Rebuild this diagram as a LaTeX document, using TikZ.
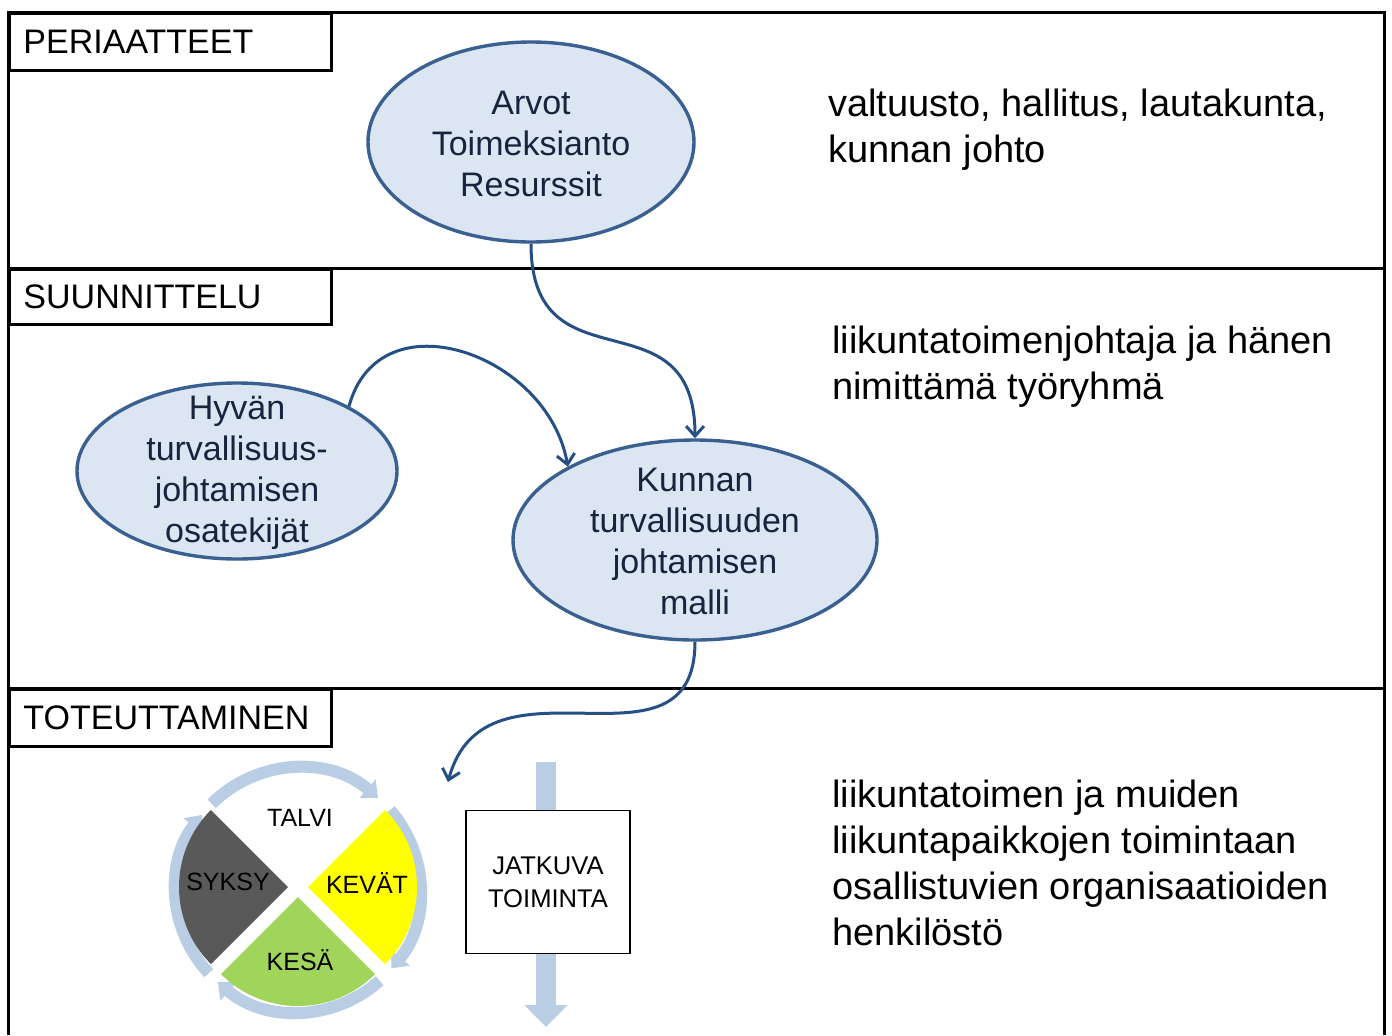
\documentclass[tikz,border=0pt]{standalone}
\usepackage{fontspec}
\setmainfont{Liberation Sans}
\usetikzlibrary{shapes.geometric, arrows.meta, positioning}
\definecolor{ellfill}{RGB}{220,230,242}
\definecolor{elledge}{RGB}{58,96,145}
\definecolor{flowblue}{RGB}{37,79,133}
\definecolor{ringblue}{RGB}{185,205,229}
\definecolor{ellink}{RGB}{22,36,62}
\definecolor{kevatyellow}{RGB}{255,255,0}
\definecolor{kesagreen}{RGB}{160,212,90}
\definecolor{syksygray}{RGB}{89,89,89}

\begin{document}
\begin{tikzpicture}[x=0.5pt, y=-0.5pt,
  phase/.style={draw=black, line width=1.5pt, anchor=north west, text width=147pt, inner xsep=7pt, align=left, font=\fontsize{17}{20}\selectfont},
  goal/.style={ellipse, draw=elledge, fill=ellfill, line width=1.7pt, inner sep=0pt},
  goaltext/.style={align=center, text=ellink, font=\fontsize{17}{20.5}\selectfont},
  who/.style={anchor=west, align=left, inner sep=0pt, font=\fontsize{19}{23}\selectfont},
  link/.style={draw=flowblue, line width=1.5pt, -{Straight Barb[length=5pt, width=9pt]}},
  season/.style={font=\fontsize{12.5}{15}\selectfont},
  ring/.style={draw=ringblue, line width=6pt, -{Triangle[width=12pt, length=7pt]}}
]
  \useasboundingbox (0,0) rectangle (1392,1035);

  % Frame and levels
  \draw[line width=1.5pt] (8,1035) -- (8,12) -- (1384,12) -- (1384,1035);
  \draw[line width=1.5pt] (8,268) -- (1384,268);
  \draw[line width=1.5pt] (8,688) -- (1384,688);
  \node[phase, minimum height=28.5pt] (periaatteet) at (8,12) {PERIAATTEET};
  \node[phase, minimum height=27.5pt] (suunnittelu) at (8,268) {SUUNNITTELU};
  \node[phase, minimum height=28.5pt] (toteuttaminen) at (8,688) {TOTEUTTAMINEN};

  % Who
  \node[who] (ylin) at (828,130) {valtuusto, hallitus, lautakunta,\\kunnan johto};
  \node[who] (keski) at (832,367) {liikuntatoimenjohtaja ja hänen\\nimittämä työryhmä};
  \node[who] (alin) at (832,863) {liikuntatoimen ja muiden\\liikuntapaikkojen toimintaan\\osallistuvien organisaatioiden\\henkilöstö};

  % Ellipses
  \node[goal, minimum width=163pt, minimum height=100pt] (arvot) at (531,142) {};
  \node[goaltext] (arvotText) at (531,144) {Arvot\\Toimeksianto\\Resurssit};
  \node[goal, minimum width=160pt, minimum height=88pt] (hyvan) at (237,471) {};
  \node[goaltext] (hyvanText) at (237,473) {Hyvän\\turvallisuus-\\johtamisen\\osatekijät};
  \node[goal, minimum width=182pt, minimum height=100pt] (kunnan) at (695,540) {};
  \node[goaltext] (kunnanText) at (695,541) {Kunnan\\turvallisuuden\\johtamisen\\malli};

  % Arrows
  \coordinate (toCycle) at (448,782);
  \draw[link] (arvot.south) to[out=-90, in=90, looseness=1.5] (kunnan.north);
  \draw[link] (hyvan.30) to[out=75, in=100, looseness=1.3] (kunnan.150);
  \draw[link] (kunnan.south) to[out=-90, in=75, looseness=1.3] (toCycle);

  % Year cycle
  \coordinate (cycC) at (298,887);
  \coordinate (ringC) at (298,890);
  \draw[ring] ([shift={(135:61pt)}]ringC) arc[start angle=135, end angle=49, radius=61pt];
  \draw[ring] ([shift={(41:61pt)}]ringC) arc[start angle=41, end angle=-40, radius=61pt];
  \draw[ring] ([shift={(-48:61pt)}]ringC) arc[start angle=-48, end angle=-131, radius=61pt];
  \draw[ring] ([shift={(-137:61pt)}]ringC) arc[start angle=-137, end angle=-218, radius=61pt];
  \fill[kevatyellow] ([shift={(0:5pt)}]cycC) -- ++(45:54.5pt) arc[start angle=45, end angle=-45, radius=54.5pt] -- cycle;
  \fill[kesagreen] ([shift={(-90:5pt)}]cycC) -- ++(-45:54.5pt) arc[start angle=-45, end angle=-135, radius=54.5pt] -- cycle;
  \fill[syksygray] ([shift={(180:5pt)}]cycC) -- ++(-135:54.5pt) arc[start angle=-135, end angle=-225, radius=54.5pt] -- cycle;
  \node[season] (talvi) at (300,818) {TALVI};
  \node[season] (kevat) at (367,883) {KEVÄT};
  \node[season] (kesa) at (300,960) {KESÄ};
  \node[season] (syksy) at (228,882) {SYKSY};

  % Continuous
  \coordinate (flowTop) at (546,762);
  \coordinate (flowEnd) at (546,1027);
  \draw[draw=ringblue, line width=10pt, -{Triangle[width=21pt, length=11pt]}] (flowTop) -- (flowEnd);
  \node[draw=black, line width=0.75pt, fill=white, minimum width=82pt, minimum height=71.5pt, align=center, font=\fontsize{12.8}{16.5}\selectfont] (jatkuva) at (548,882) {JATKUVA\\TOIMINTA};
\end{tikzpicture}
\end{document}
